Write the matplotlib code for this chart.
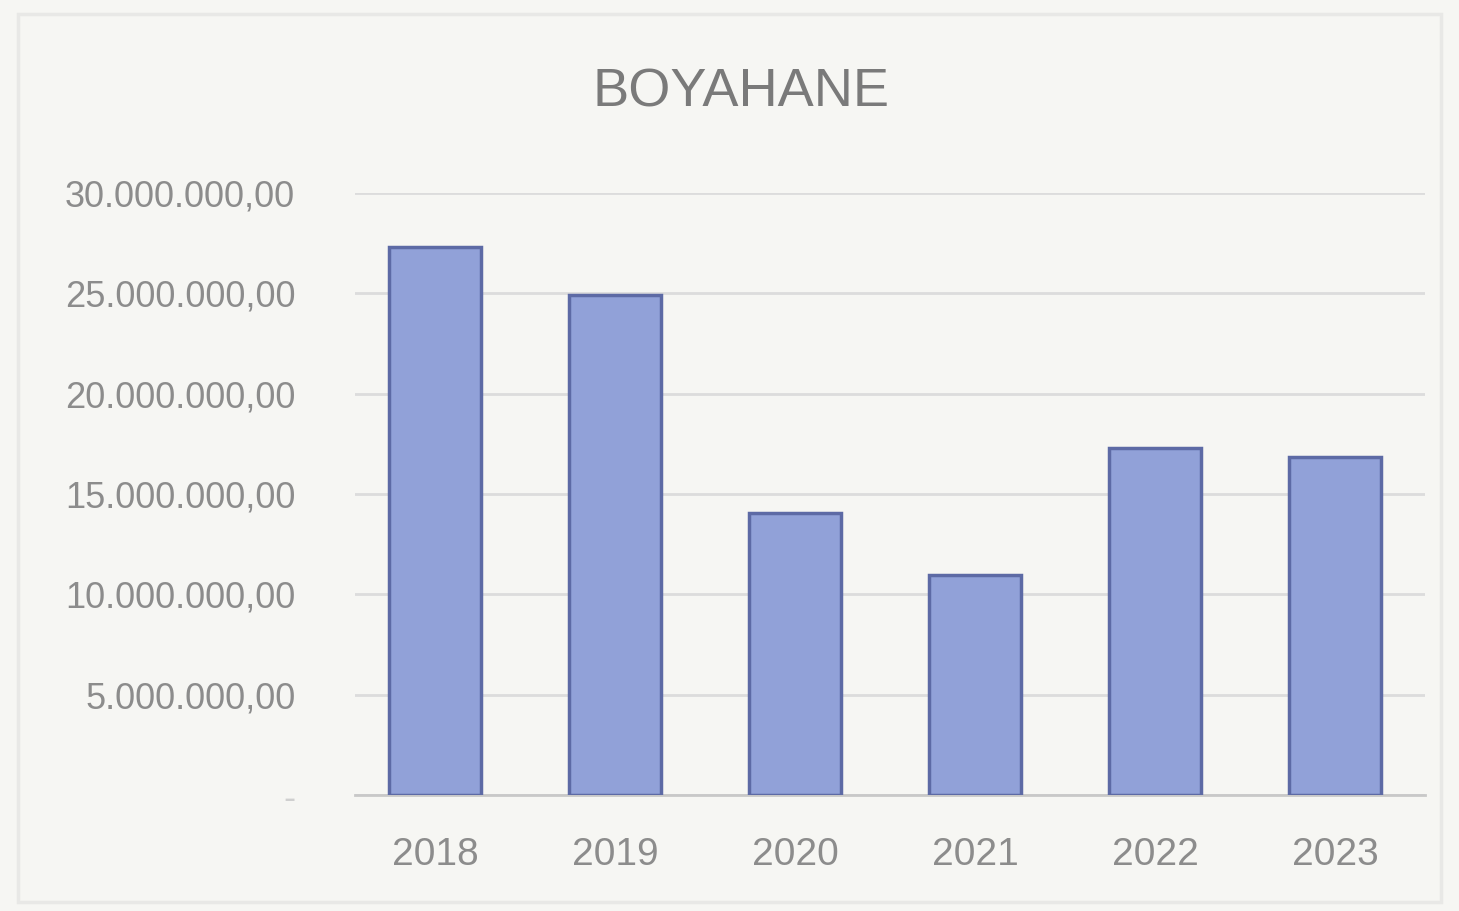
import matplotlib
matplotlib.use("Agg")
import matplotlib.pyplot as plt
from matplotlib.patches import Rectangle
from matplotlib.ticker import FuncFormatter

years = ["2018", "2019", "2020", "2021", "2022", "2023"]
values = [27300000, 24900000, 14050000, 10950000, 17300000, 16850000]
y_ticks = [0, 5000000, 10000000, 15000000, 20000000, 25000000, 30000000]
title = "BOYAHANE"

BG = "#f6f6f3"
TXT = "#8c8c8c"


def tr_money(v, _pos=None):
    # Turkish style: dot thousands, comma decimals; zero shown as a dash
    if v == 0:
        return "-"
    s = f"{v:,.2f}"
    return s.replace(",", "X").replace(".", ",").replace("X", ".")


plt.rcParams["font.family"] = ["Liberation Sans", "DejaVu Sans"]

fig = plt.figure(figsize=(14.59, 9.11), dpi=100, facecolor=BG)
fig.patches.append(Rectangle((0.012, 0.01), 0.976, 0.975, transform=fig.transFigure,
                             fill=False, edgecolor="#e8e8e6", lw=2.5))

ax = fig.add_axes([0.2433, 0.1273, 0.7334, 0.6609])
ax.set_facecolor(BG)

x = range(len(years))
ax.bar(x, values, width=0.51, color="#91a1d8", edgecolor="#5d6aa5", linewidth=2.5, zorder=3)

ax.set_xlim(-0.444, len(years) - 0.5)
ax.set_ylim(0, 30000000)
ax.set_yticks(y_ticks)
ax.yaxis.set_major_formatter(FuncFormatter(tr_money))
ax.set_xticks(list(x), years)

ax.grid(axis="y", color="#dcdcdc", lw=2, zorder=0)
for side in ["top", "right", "left"]:
    ax.spines[side].set_visible(False)
ax.spines["bottom"].set_color("#c8c8c8")
ax.spines["bottom"].set_linewidth(2)

ax.tick_params(axis="y", length=0, pad=43, labelsize=26, labelcolor=TXT)
ax.tick_params(axis="x", length=0, pad=30, labelsize=28, labelcolor=TXT)
ax.get_yticklabels()[0].set_color("#cfcfcf")

fig.text(0.508, 0.899, title, ha="center", va="center", fontsize=39, color="#7a7a7a")

fig.savefig("out.png", dpi=100, facecolor=BG)
